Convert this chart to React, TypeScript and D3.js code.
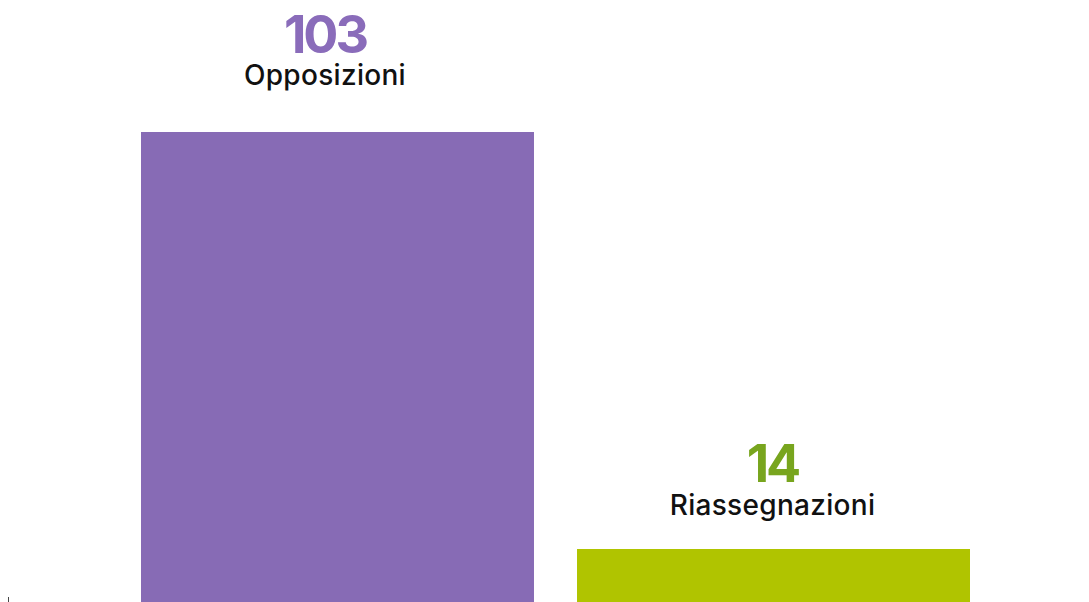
import React from "react";
import * as d3 from "d3";

const categories = ["Opposizioni", "Riassegnazioni"];
const values = [103, 14];
const barColors = ["#876BB5", "#B0C400"];
const valueColors = ["#8A6CBA", "#78A51E"];

// layout nudges for the annotation text (px)
const textDx = [-12.5, -1];
const valueGap = [79, 67];
const labelGap = [47, 34];

const W = 1089;
const H = 602;

export default function App() {
  const x = d3
    .scaleBand<string>()
    .domain(categories)
    .range([141, 970])
    .paddingInner(0.0987)
    .paddingOuter(0);
  const y = d3.scaleLinear().domain([0, 103]).range([614.6, 132]);
  const font = "Inter, 'Open Sans', sans-serif";

  return (
    <svg
      width={W}
      height={H}
      style={{ position: "absolute", left: 0, top: 0, display: "block", background: "#fff" }}
    >
      <line x1={8.5} x2={8.5} y1={597} y2={602} stroke="#444" strokeWidth={1} />
      {categories.map((c, i) => {
        const bx = x(c)!;
        const top = y(values[i]);
        const cx = bx + x.bandwidth() / 2 + textDx[i];
        return (
          <g key={c}>
            <rect x={bx} y={top} width={x.bandwidth()} height={y(0) - top} fill={barColors[i]} />
            <text
              x={cx}
              y={top - valueGap[i]}
              textAnchor="middle"
              fontFamily={font}
              fontWeight={700}
              fontSize={52}
              letterSpacing={-3}
              fill={valueColors[i]}
            >
              {values[i]}
            </text>
            <text
              x={cx}
              y={top - labelGap[i]}
              textAnchor="middle"
              fontFamily={font}
              fontWeight={500}
              fontSize={28}
              letterSpacing={0.3}
              fill="#111"
            >
              {c}
            </text>
          </g>
        );
      })}
    </svg>
  );
}
